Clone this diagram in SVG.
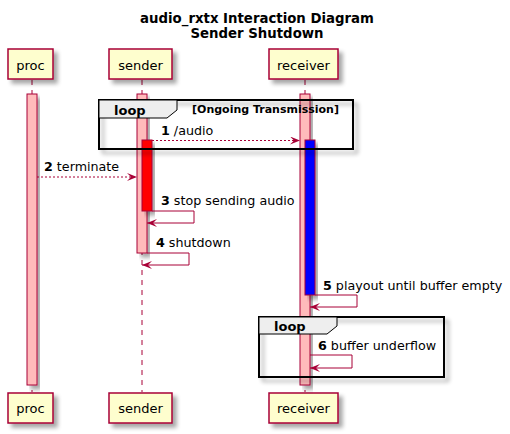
<svg xmlns="http://www.w3.org/2000/svg" width="510" height="434" viewBox="0 0 510 434">
<defs>
<filter id="sh" x="-20%" y="-20%" width="150%" height="150%">
<feGaussianBlur in="SourceAlpha" stdDeviation="2" result="b"/>
<feOffset in="b" dx="4" dy="4" result="o"/>
<feComponentTransfer in="o" result="c"><feFuncA type="linear" slope="0.35"/></feComponentTransfer>
<feMerge><feMergeNode in="c"/><feMergeNode in="SourceGraphic"/></feMerge>
</filter>
<marker id="ah" viewBox="0 0 10 8" refX="10" refY="4" markerWidth="10" markerHeight="8" markerUnits="userSpaceOnUse" orient="auto">
<polygon points="0,0 10,4 0,8 4,4" fill="#A80036"/>
</marker>
</defs>
<style>
text{font-family:"DejaVu Sans",Verdana,sans-serif;fill:#000}
.title{font-size:13.3px;font-weight:bold}
.pbox{fill:#FEFECE;stroke:#A80036;stroke-width:1.5}
.pt{font-size:13px}
.life{stroke:#A80036;stroke-width:1;stroke-dasharray:5,5;fill:none}
.act{fill:#FFBBBB;stroke:#A80036;stroke-width:1}
.msg{stroke:#A80036;stroke-width:1;fill:none}
.dot{stroke-dasharray:2,2}
.mt{font-size:12.7px}
.frame{fill:none;stroke:#000;stroke-width:2}
.tab{fill:#EEEEEE;stroke:#000;stroke-width:1}
.lt{font-size:13px;font-weight:bold}
.gt{font-size:11px;font-weight:bold}
</style>
<rect width="510" height="434" fill="#fff"/>
<g id="title">
<text class="title" x="257" y="23" text-anchor="middle">audio_rxtx Interaction Diagram</text>
<text class="title" x="257" y="38" text-anchor="middle">Sender Shutdown</text>
</g>
<g id="lifelines">
<line class="life" x1="32" y1="80" x2="32" y2="392"/>
<line class="life" x1="142" y1="80" x2="142" y2="392"/>
<line class="life" x1="305" y1="80" x2="305" y2="392"/>
</g>
<g id="proc">
<rect class="pbox" x="8" y="49" width="45" height="30" filter="url(#sh)"/>
<text class="pt" x="30.5" y="70" text-anchor="middle">proc</text>
<rect class="pbox" x="8" y="393" width="45" height="30" filter="url(#sh)"/>
<text class="pt" x="30.5" y="413" text-anchor="middle">proc</text>
<rect class="act" x="27" y="94" width="10" height="291" filter="url(#sh)"/>
</g>
<g id="sender">
<rect class="pbox" x="109" y="49" width="63" height="30" filter="url(#sh)"/>
<text class="pt" x="140.5" y="70" text-anchor="middle">sender</text>
<rect class="pbox" x="109" y="393" width="63" height="30" filter="url(#sh)"/>
<text class="pt" x="140.5" y="413" text-anchor="middle">sender</text>
<rect class="act" x="137" y="94" width="10" height="159" filter="url(#sh)"/>
<rect x="142" y="140" width="10" height="71" fill="#FF0000" stroke="#A80036" stroke-width="1" filter="url(#sh)"/>
</g>
<g id="receiver">
<rect class="pbox" x="269" y="49" width="69" height="30" filter="url(#sh)"/>
<text class="pt" x="303.5" y="70" text-anchor="middle">receiver</text>
<rect class="pbox" x="269" y="393" width="69" height="30" filter="url(#sh)"/>
<text class="pt" x="303.5" y="413" text-anchor="middle">receiver</text>
<rect class="act" x="300" y="94" width="10" height="291" filter="url(#sh)"/>
<rect x="305" y="140" width="10" height="155" fill="#0000FF" stroke="#A80036" stroke-width="1" filter="url(#sh)"/>
</g>
<g id="loop1">
<rect class="frame" x="99" y="100" width="254" height="49" filter="url(#sh)"/>
<polygon class="tab" points="99,100 177,100 177,110 167,118 99,118"/>
<text class="lt" x="114" y="115">loop</text>
<text class="gt" x="192" y="113">[Ongoing Transmission]</text>
</g>
<g id="loop2">
<rect class="frame" x="259" y="317" width="185" height="60" filter="url(#sh)"/>
<polygon class="tab" points="259,317 337,317 337,326 327,334 259,334"/>
<text class="lt" x="274" y="331">loop</text>
</g>
<g id="connectors">
<line class="msg dot" x1="152" y1="140.5" x2="300" y2="140.5" marker-end="url(#ah)"/>
<line class="msg dot" x1="37" y1="177" x2="137" y2="177" marker-end="url(#ah)"/>
<polyline class="msg" points="152,211 194,211 194,223 147,223" marker-end="url(#ah)"/>
<polyline class="msg" points="147,253 189,253 189,265 142,265" marker-end="url(#ah)"/>
<polyline class="msg" points="315,295 357,295 357,307 310,307" marker-end="url(#ah)"/>
<polyline class="msg" points="310,355 352,355 352,368 310,368" marker-end="url(#ah)"/>
</g>
<g id="labels">
<text class="mt" x="161" y="135"><tspan font-weight="bold">1</tspan> /audio</text>
<text class="mt" x="44" y="171"><tspan font-weight="bold">2</tspan> terminate</text>
<text class="mt" x="161" y="205"><tspan font-weight="bold">3</tspan> stop sending audio</text>
<text class="mt" x="156" y="247"><tspan font-weight="bold">4</tspan> shutdown</text>
<text class="mt" x="323" y="290"><tspan font-weight="bold">5</tspan> playout until buffer empty</text>
<text class="mt" x="318" y="350"><tspan font-weight="bold">6</tspan> buffer underflow</text>
</g>
</svg>
